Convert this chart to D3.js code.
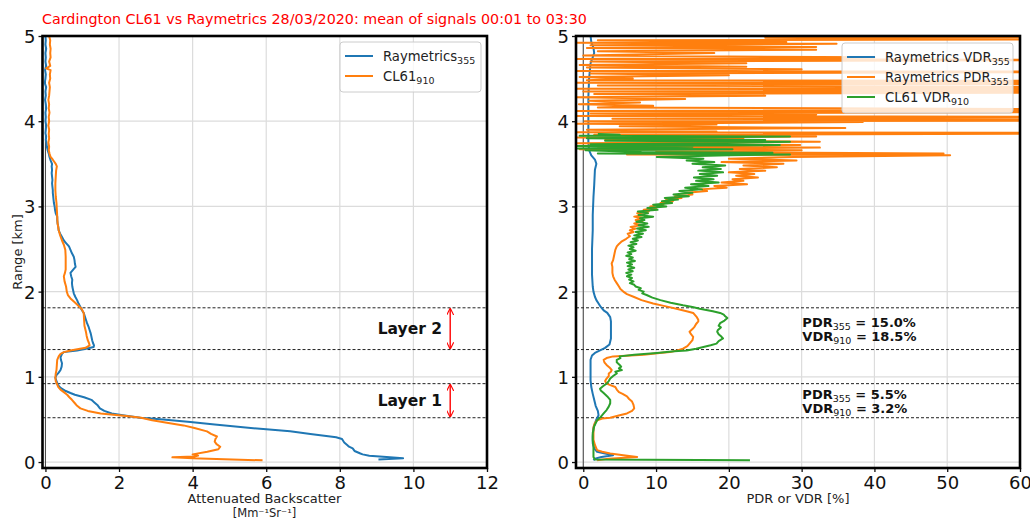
<!DOCTYPE html>
<html><head><meta charset="utf-8">
<script src="https://cdn.jsdelivr.net/npm/d3@7"></script>
<style>body{margin:0;background:#fff}svg{display:block;font-family:"DejaVu Sans",sans-serif}</style>
</head><body><svg id="c" width="1030" height="519"></svg>
<script>
// ---------- DATA: [range km, value] ----------
const rayBsc = [[0.03,9.05],[0.045,9.72],[0.06,9.27],[0.075,8.8],[0.09,8.62],[0.1,8.56],[0.13,8.4],[0.16,8.35],[0.18,8.25],[0.2,8.2],[0.23,8.12],[0.27,8.06],[0.29,7.9],[0.3,7.74],[0.33,7.2],[0.36,6.65],[0.385,6.0],[0.41,5.3],[0.44,4.6],[0.47,3.94],[0.5,3.2],[0.52,2.58],[0.55,2.1],[0.57,1.8],[0.6,1.6],[0.63,1.48],[0.67,1.41],[0.7,1.33],[0.73,1.25],[0.76,1.05],[0.79,0.8],[0.81,0.68],[0.84,0.52],[0.87,0.41],[0.9,0.35],[0.93,0.32],[0.96,0.29],[0.99,0.27],[1.02,0.3],[1.05,0.36],[1.08,0.41],[1.12,0.44],[1.16,0.45],[1.2,0.42],[1.23,0.41],[1.27,0.45],[1.29,0.5],[1.31,0.86],[1.33,1.1],[1.35,1.31],[1.37,1.32],[1.4,1.29],[1.43,1.27],[1.47,1.25],[1.51,1.23],[1.55,1.2],[1.59,1.17],[1.63,1.13],[1.67,1.1],[1.71,1.07],[1.75,1.04],[1.79,0.98],[1.82,0.95],[1.86,0.9],[1.9,0.86],[1.94,0.81],[1.98,0.77],[2.02,0.75],[2.06,0.73],[2.1,0.72],[2.14,0.73],[2.18,0.7],[2.22,0.68],[2.26,0.76],[2.29,0.82],[2.33,0.8],[2.37,0.79],[2.41,0.77],[2.45,0.72],[2.49,0.68],[2.53,0.64],[2.57,0.56],[2.6,0.5],[2.64,0.45],[2.68,0.4],[2.72,0.36],[2.76,0.35],[2.8,0.33],[2.84,0.32],[2.88,0.32],[2.92,0.28],[2.96,0.26],[3.0,0.25],[3.04,0.23],[3.08,0.22],[3.12,0.21],[3.16,0.2],[3.19,0.2],[3.23,0.19],[3.27,0.18],[3.31,0.19],[3.35,0.18],[3.39,0.17],[3.43,0.18],[3.47,0.17],[3.5,0.18],[3.54,0.14],[3.58,0.11],[3.62,0.09],[3.66,0.06],[3.7,0.04],[3.74,0.03],[3.78,0.01],[3.82,0.02],[3.86,0.0],[3.9,0.01],[3.95,0.02],[4.0,0.0],[4.05,0.01],[4.1,0.0],[4.15,0.02],[4.2,0.01],[4.25,-0.01],[4.3,0.01],[4.35,0.0],[4.4,0.02],[4.45,-0.02],[4.5,0.0],[4.55,0.01],[4.6,-0.01],[4.65,0.02],[4.7,0.0],[4.75,0.01],[4.8,0.0],[4.85,0.02],[4.9,0.0],[4.95,0.01],[5.0,0.0]];

const cl61Bsc = [[0.02,5.9],[0.045,4.0],[0.055,3.45],[0.065,4.05],[0.075,4.15],[0.09,4.0],[0.12,4.4],[0.15,4.7],[0.18,4.75],[0.21,4.65],[0.24,4.6],[0.27,4.62],[0.3,4.66],[0.33,4.5],[0.36,4.39],[0.4,4.05],[0.43,3.75],[0.46,3.3],[0.49,2.9],[0.52,2.6],[0.54,2.2],[0.57,1.5],[0.6,1.15],[0.63,0.95],[0.66,0.86],[0.69,0.8],[0.73,0.72],[0.76,0.65],[0.79,0.59],[0.82,0.5],[0.85,0.41],[0.88,0.35],[0.91,0.32],[0.95,0.28],[0.99,0.27],[1.04,0.28],[1.08,0.3],[1.14,0.31],[1.2,0.32],[1.24,0.36],[1.27,0.41],[1.29,0.5],[1.31,0.68],[1.34,1.09],[1.37,1.2],[1.4,1.18],[1.43,1.15],[1.48,1.12],[1.53,1.1],[1.6,1.06],[1.67,1.05],[1.75,1.04],[1.8,0.98],[1.84,0.88],[1.88,0.78],[1.92,0.68],[1.96,0.61],[2.0,0.58],[2.06,0.56],[2.12,0.52],[2.18,0.5],[2.22,0.53],[2.26,0.55],[2.33,0.55],[2.41,0.55],[2.49,0.54],[2.55,0.5],[2.6,0.45],[2.66,0.4],[2.72,0.36],[2.8,0.33],[2.88,0.32],[2.96,0.31],[3.04,0.3],[3.12,0.28],[3.19,0.27],[3.27,0.27],[3.35,0.28],[3.42,0.29],[3.47,0.31],[3.5,0.28],[3.53,0.23],[3.56,0.18],[3.58,0.14],[3.62,0.11],[3.66,0.09],[3.7,0.1],[3.75,0.08],[3.8,0.1],[3.85,0.09],[3.9,0.1],[3.95,0.08],[4.0,0.1],[4.05,0.09],[4.1,0.11],[4.15,0.09],[4.2,0.1],[4.25,0.08],[4.3,0.1],[4.35,0.11],[4.4,0.12],[4.45,0.1],[4.5,0.13],[4.55,0.12],[4.6,0.14],[4.62,0.02],[4.65,0.13],[4.7,0.1],[4.75,0.14],[4.8,0.13],[4.85,0.14],[4.9,0.12],[4.95,0.13],[5.0,0.1]];

const rayVdr = [[0.02,1.4],[0.04,1.6],[0.06,2.5],[0.08,4.1],[0.1,3.0],[0.12,1.9],[0.16,1.5],[0.22,1.3],[0.3,1.3],[0.4,1.4],[0.45,1.6],[0.5,1.8],[0.55,2.1],[0.6,2.0],[0.66,1.7],[0.73,1.5],[0.8,1.3],[0.88,1.1],[0.96,1.0],[1.04,1.0],[1.12,1.0],[1.2,1.0],[1.25,1.2],[1.28,1.6],[1.31,2.3],[1.34,3.0],[1.38,3.6],[1.45,3.8],[1.55,3.8],[1.65,3.8],[1.7,3.7],[1.75,3.3],[1.78,2.8],[1.82,2.4],[1.86,2.1],[1.9,1.8],[1.94,1.6],[2.0,1.4],[2.06,1.3],[2.2,1.2],[2.35,1.2],[2.5,1.2],[2.72,1.3],[2.9,1.3],[3.11,1.4],[3.25,1.5],[3.43,1.6],[3.5,1.8],[3.55,1.6],[3.6,1.1],[3.66,0.8],[3.75,0.7],[3.9,0.7],[4.1,0.7],[4.29,0.7],[4.5,0.8],[4.68,1.0],[4.75,1.3],[4.8,1.5],[4.86,1.4],[4.93,1.1],[5.0,1.0]];

const rayPdr = [[0.02,1.9],[0.04,3.5],[0.06,7.4],[0.08,5.5],[0.1,3.7],[0.12,2.6],[0.14,1.9],[0.2,1.6],[0.26,1.4],[0.34,1.4],[0.41,1.4],[0.46,1.6],[0.49,1.9],[0.51,2.6],[0.52,3.7],[0.55,5.0],[0.57,6.0],[0.6,6.7],[0.63,7.0],[0.67,6.9],[0.71,6.7],[0.74,6.3],[0.77,6.0],[0.8,5.4],[0.82,4.9],[0.85,4.6],[0.88,4.4],[0.9,3.8],[0.92,3.2],[0.95,3.0],[0.98,3.2],[1.01,3.5],[1.04,3.5],[1.06,3.8],[1.08,3.9],[1.11,3.6],[1.14,3.2],[1.17,2.9],[1.2,2.8],[1.22,3.2],[1.24,4.1],[1.26,8.3],[1.28,10.5],[1.29,11.9],[1.31,12.9],[1.33,13.7],[1.36,14.3],[1.39,14.6],[1.43,15.0],[1.47,15.1],[1.5,14.8],[1.53,14.6],[1.56,15.0],[1.59,15.3],[1.62,15.5],[1.65,15.8],[1.67,15.8],[1.7,15.6],[1.73,15.3],[1.75,15.1],[1.77,14.2],[1.8,12.8],[1.83,11.2],[1.86,9.6],[1.9,8.0],[1.94,6.9],[1.97,6.0],[2.0,5.5],[2.03,5.1],[2.06,4.9],[2.1,4.6],[2.14,4.3],[2.18,4.1],[2.22,4.0],[2.26,4.0],[2.29,4.0],[2.33,3.9],[2.37,4.1],[2.41,4.2],[2.45,4.3],[2.49,4.4],[2.53,4.6],[2.56,4.9],[2.59,5.3],[2.62,5.9],[2.65,6.4],[2.68,6.1],[2.7,6.9],[2.72,6.4],[2.74,7.2],[2.76,6.5],[2.78,7.9],[2.8,7.0],[2.82,8.1],[2.84,7.2],[2.86,8.0],[2.88,7.0],[2.9,8.4],[2.92,7.4],[2.94,9.0],[2.96,8.3],[2.98,10.0],[3.0,9.2],[3.02,11.0],[3.04,10.6],[3.06,12.3],[3.08,11.4],[3.1,13.5],[3.12,12.6],[3.14,15.0],[3.16,14.2],[3.18,17.0],[3.2,16.0],[3.22,19.7],[3.24,18.0],[3.26,22.5],[3.28,19.0],[3.3,22.0],[3.32,20.5],[3.34,24.0],[3.36,21.0],[3.38,23.5],[3.4,20.0],[3.42,25.0],[3.44,21.5],[3.46,26.6],[3.48,22.0],[3.5,27.5],[3.52,19.0],[3.54,29.3],[3.56,20.0],[3.58,28.9],[3.6,50.4],[3.61,6.0],[3.62,49.5],[3.64,10.0],[3.66,30.0],[3.67,-0.5],[3.69,32.5],[3.7,2.0],[3.72,29.8],[3.74,-0.8],[3.76,32.5],[3.78,3.0],[3.8,22.0],[3.81,-0.9],[3.82,32.0],[3.84,1.5],[3.86,95],[3.87,-1.2],[3.88,18.3],[3.9,0.5],[3.92,36.0],[3.94,5.0],[3.96,18.3],[3.97,-1],[3.99,38.4],[4.0,0.2],[4.01,90],[4.03,4.0],[4.05,80],[4.06,-0.8],[4.08,32.0],[4.09,1.0],[4.11,85],[4.12,-1.0],[4.14,75],[4.16,2.0],[4.18,9.6],[4.2,-0.6],[4.22,7.8],[4.24,0.8],[4.26,14.0],[4.28,-1],[4.3,25.0],[4.32,1.5],[4.34,88],[4.35,0.0],[4.37,92],[4.38,-1.0],[4.4,80],[4.42,2.0],[4.44,70],[4.45,-0.9],[4.47,95],[4.48,0.5],[4.5,6.8],[4.52,-0.5],[4.54,20.0],[4.56,1.0],[4.58,85],[4.59,-1.0],[4.61,30.0],[4.63,0.5],[4.64,22.4],[4.66,-0.5],[4.68,22.4],[4.7,1.0],[4.72,80],[4.73,-1.2],[4.75,40.0],[4.77,0.0],[4.8,18.0],[4.82,2.0],[4.84,32.0],[4.86,0.5],[4.87,32.0],[4.89,1.0],[4.91,34.8],[4.92,-0.8],[4.93,27.9],[4.95,2.0],[4.96,60],[4.98,25.0],[4.99,90],[5.0,27.9]];

const cl61Vdr = [[0.02,22.9],[0.03,1.6],[0.06,1.4],[0.12,1.4],[0.18,1.4],[0.26,1.3],[0.34,1.3],[0.42,1.5],[0.49,1.9],[0.53,2.4],[0.57,2.8],[0.61,3.2],[0.65,3.5],[0.69,3.7],[0.73,3.7],[0.77,3.3],[0.81,2.8],[0.84,2.4],[0.86,2.3],[0.89,2.7],[0.92,3.2],[0.95,3.5],[0.98,3.7],[1.01,4.1],[1.04,4.6],[1.06,4.4],[1.08,5.3],[1.1,4.9],[1.12,5.2],[1.14,5.0],[1.17,4.6],[1.2,4.6],[1.22,5.1],[1.24,5.0],[1.26,7.0],[1.28,10.1],[1.3,12.5],[1.31,14.2],[1.33,15.5],[1.35,16.5],[1.37,17.5],[1.39,18.3],[1.42,18.6],[1.45,19.2],[1.47,19.0],[1.5,18.6],[1.53,18.4],[1.55,18.5],[1.58,18.9],[1.6,18.6],[1.63,18.8],[1.66,19.4],[1.69,19.8],[1.71,19.5],[1.73,19.3],[1.75,18.8],[1.77,17.8],[1.8,16.0],[1.82,15.0],[1.84,13.7],[1.87,12.0],[1.9,10.6],[1.93,9.5],[1.96,8.7],[1.98,8.1],[2.0,8.3],[2.02,7.6],[2.04,7.9],[2.06,7.2],[2.08,7.0],[2.1,6.4],[2.12,6.9],[2.14,6.3],[2.16,6.7],[2.18,6.0],[2.2,6.6],[2.22,5.9],[2.24,6.8],[2.26,6.2],[2.28,7.0],[2.3,6.1],[2.32,6.7],[2.34,6.0],[2.36,7.1],[2.38,6.3],[2.4,6.8],[2.42,5.9],[2.44,6.6],[2.46,6.1],[2.48,7.2],[2.5,6.4],[2.52,6.9],[2.54,6.2],[2.56,7.3],[2.58,6.5],[2.6,7.5],[2.62,6.8],[2.64,8.0],[2.66,7.0],[2.68,8.2],[2.7,7.2],[2.72,8.6],[2.74,7.4],[2.76,9.0],[2.78,7.6],[2.8,8.8],[2.82,7.3],[2.84,8.4],[2.86,7.8],[2.88,9.6],[2.9,7.6],[2.92,8.9],[2.94,7.5],[2.96,10.2],[2.98,8.8],[3.0,11.4],[3.02,9.6],[3.04,12.2],[3.06,10.8],[3.08,13.0],[3.1,11.2],[3.12,14.5],[3.14,12.4],[3.16,15.0],[3.18,13.2],[3.2,16.3],[3.22,14.0],[3.24,17.2],[3.26,14.8],[3.28,18.6],[3.3,15.5],[3.32,17.9],[3.34,15.2],[3.36,18.4],[3.38,16.0],[3.4,19.2],[3.42,15.8],[3.44,18.9],[3.46,16.4],[3.48,19.5],[3.5,15.0],[3.52,18.0],[3.54,14.2],[3.56,16.5],[3.58,10.1],[3.6,20.0],[3.61,28.4],[3.62,2.0],[3.63,26.0],[3.64,8.0],[3.66,0.3],[3.67,20.5],[3.68,-0.8],[3.7,15.0],[3.71,-0.9],[3.72,27.0],[3.73,1.0],[3.74,18.0],[3.76,28.4],[3.77,3.0],[3.78,25.0],[3.8,0.5],[3.82,28.4],[3.83,-0.5],[3.84,5.0],[3.85,2.0]];

const layerBounds = [0.52, 0.92, 1.32, 1.81];
const layerNames = ["Layer 1", "Layer 2"];
const layerStats = [["5.5%", "3.2%"], ["15.0%", "18.5%"]];
const bscTicks = [0, 2, 4, 6, 8, 10, 12];
const drTicks = [0, 10, 20, 30, 40, 50, 60];
const rangeTicks = [0, 1, 2, 3, 4, 5];
const titleText = "Cardington CL61 vs Raymetrics 28/03/2020: mean of signals 00:01 to 03:30";

// ---------- DRAW ----------
const C = {blue: "#1f77b4", orange: "#ff7f0e", green: "#2ca02c"};
const svg = d3.select("#c");
const y = d3.scaleLinear([-0.07, 5], [468, 36]);

svg.append("text").attr("x", 42).attr("y", 24).attr("fill", "red")
  .attr("font-size", 14.3).text(titleText);

function panel(id, x, xTicks) {
  const [x0, x1] = x.range();
  const g = svg.append("g");
  g.append("clipPath").attr("id", id).append("rect")
    .attr("x", x0).attr("y", 36).attr("width", x1 - x0).attr("height", 432);
  g.selectAll(".gx").data(xTicks).join("line")
    .attr("x1", d => x(d)).attr("x2", d => x(d)).attr("y1", 36).attr("y2", 468)
    .attr("stroke", "#dcdcdc").attr("stroke-width", 1.2);
  g.selectAll(".gy").data(rangeTicks).join("line")
    .attr("y1", d => y(d)).attr("y2", d => y(d)).attr("x1", x0).attr("x2", x1)
    .attr("stroke", "#dcdcdc").attr("stroke-width", 1.2);
  g.append("line").attr("x1", x(0)).attr("x2", x(0)).attr("y1", 36).attr("y2", 468)
    .attr("stroke", "#444").attr("stroke-width", 1);
  g.selectAll(".lb").data(layerBounds).join("line")
    .attr("y1", d => y(d)).attr("y2", d => y(d)).attr("x1", x0).attr("x2", x1)
    .attr("stroke", "#222").attr("stroke-width", 1).attr("stroke-dasharray", "3,2");
  const ax = g.append("g").attr("transform", "translate(0,468)")
    .call(d3.axisBottom(x).tickValues(xTicks).tickSize(4).tickPadding(3).tickFormat(d3.format("d")));
  const ay = g.append("g").attr("transform", `translate(${x0},0)`)
    .call(d3.axisLeft(y).tickValues(rangeTicks).tickSize(4).tickPadding(3).tickFormat(d3.format("d")));
  [ax, ay].forEach(a => {
    a.select(".domain").remove();
    a.selectAll("text").attr("font-size", 18).attr("font-family", "DejaVu Sans").attr("fill", "#111");
    a.selectAll("line").attr("stroke", "#111").attr("stroke-width", 1.3);
  });
  ax.selectAll("text").attr("dy", "0.76em");
  ay.selectAll("text").attr("dy", "0.36em");
  return g;
}

function frame(x) {
  const [x0, x1] = x.range();
  svg.append("rect").attr("x", x0).attr("y", 36).attr("width", x1 - x0).attr("height", 432)
    .attr("fill", "none").attr("stroke", "#000").attr("stroke-width", 2.6);
}

function drawLine(g, id, x, data, color) {
  g.append("path").datum(data).attr("clip-path", `url(#${id})`)
    .attr("fill", "none").attr("stroke", color).attr("stroke-width", 2)
    .attr("stroke-linejoin", "round")
    .attr("d", d3.line().x(d => x(d[1])).y(d => y(d[0])));
}

function legend(x0, y0, w, items) {
  const h = items.length * 20 + 10;
  svg.append("rect").attr("x", x0).attr("y", y0).attr("width", w).attr("height", h)
    .attr("rx", 3).attr("fill", "#fff").attr("fill-opacity", 0.8)
    .attr("stroke", "#ccc").attr("stroke-width", 1);
  items.forEach((it, i) => {
    const cy = y0 + 14 + i * 20;
    svg.append("line").attr("x1", x0 + 5).attr("x2", x0 + 33).attr("y1", cy).attr("y2", cy)
      .attr("stroke", it.c).attr("stroke-width", 2);
    const t = svg.append("text").attr("x", x0 + 43).attr("y", cy + 5).attr("font-size", 13.2).attr("fill", "#222");
    t.append("tspan").text(it.t);
    t.append("tspan").attr("font-size", 9.5).attr("dy", 3).text(it.s);
  });
}

// Left panel
const xL = d3.scaleLinear([-0.08, 12], [42.5, 487]);
const gL = panel("clipL", xL, bscTicks);
drawLine(gL, "clipL", xL, rayBsc, C.blue);
drawLine(gL, "clipL", xL, cl61Bsc, C.orange);
frame(xL);
legend(340, 42, 141, [{t: "Raymetrics", s: "355", c: C.blue}, {t: "CL61", s: "910", c: C.orange}]);

svg.append("defs").append("marker").attr("id", "ah").attr("viewBox", "0 0 10 10")
  .attr("refX", 9).attr("refY", 5).attr("markerWidth", 7).attr("markerHeight", 7)
  .attr("orient", "auto-start-reverse").attr("markerUnits", "userSpaceOnUse")
  .append("path").attr("d", "M0,0 L10,5 L0,10").attr("fill", "none").attr("stroke", "red").attr("stroke-width", 1.6);
layerNames.forEach((n, i) => {
  const lo = layerBounds[i * 2], hi = layerBounds[i * 2 + 1];
  svg.append("line").attr("x1", xL(11.0)).attr("x2", xL(11.0))
    .attr("y1", y(hi) + 1).attr("y2", y(lo) - 1)
    .attr("stroke", "red").attr("stroke-width", 1.4)
    .attr("marker-start", "url(#ah)").attr("marker-end", "url(#ah)");
  svg.append("text").attr("x", 442).attr("y", y((lo + hi) / 2) + 5)
    .attr("text-anchor", "end").attr("font-size", 15.5).attr("font-weight", "bold").attr("fill", "#111").text(n);
});

svg.append("text").attr("transform", "translate(22,252) rotate(-90)").attr("text-anchor", "middle")
  .attr("font-size", 13).attr("fill", "#222").text("Range [km]");
svg.append("text").attr("x", 264.5).attr("y", 503).attr("text-anchor", "middle")
  .attr("font-size", 13).attr("fill", "#222").text("Attenuated Backscatter");
svg.append("text").attr("x", 264.5).attr("y", 517).attr("text-anchor", "middle")
  .attr("font-size", 11.5).attr("fill", "#222").text("[Mm\u207B\u00B9Sr\u207B\u00B9]");

// Right panel
const xR = d3.scaleLinear([-1, 60], [576, 1020]);
const gR = panel("clipR", xR, drTicks);
drawLine(gR, "clipR", xR, rayVdr, C.blue);
drawLine(gR, "clipR", xR, rayPdr, C.orange);
drawLine(gR, "clipR", xR, cl61Vdr, C.green);
frame(xR);
legend(842, 43, 171, [{t: "Raymetrics VDR", s: "355", c: C.blue}, {t: "Raymetrics PDR", s: "355", c: C.orange}, {t: "CL61 VDR", s: "910", c: C.green}]);

svg.append("text").attr("x", 798).attr("y", 503).attr("text-anchor", "middle")
  .attr("font-size", 13).attr("fill", "#222").text("PDR or VDR [%]");

layerStats.forEach((s, i) => {
  const lo = layerBounds[i * 2], hi = layerBounds[i * 2 + 1];
  const mid = y((lo + hi) / 2);
  [["PDR", "355", s[0]], ["VDR", "910", s[1]]].forEach((r, j) => {
    const t = svg.append("text").attr("x", xR(30.1)).attr("y", mid - 2 + j * 14)
      .attr("font-size", 13).attr("font-weight", "bold").attr("fill", "#111");
    t.append("tspan").text(r[0]);
    t.append("tspan").attr("font-size", 9.5).attr("font-weight", "normal").attr("dy", 3).text(r[1]);
    t.append("tspan").attr("dy", -3).text(" = " + r[2]);
  });
});
</script></body></html>
